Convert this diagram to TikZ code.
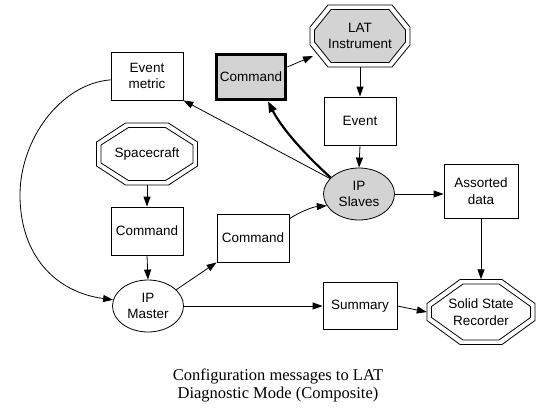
\documentclass[tikz,border=0pt]{standalone}
\usepackage{fontspec}
\setmainfont{Liberation Serif}
\newfontfamily\nodefont{Liberation Sans}
\usetikzlibrary{arrows.meta,shapes.geometric}
\definecolor{gvgray}{RGB}{211,211,211}
\newcommand\octo[6]{(#1-#3,#2-#4+#6) -- (#1-#3+#5,#2-#4) -- (#1+#3-#5,#2-#4) -- (#1+#3,#2-#4+#6) -- (#1+#3,#2+#4-#6) -- (#1+#3-#5,#2+#4) -- (#1-#3+#5,#2+#4) -- (#1-#3,#2+#4-#6) -- cycle}
\begin{document}
\begin{tikzpicture}[x=1pt,y=-1pt,
  lbl/.style={font=\nodefont\fontsize{13.5}{16.5}\selectfont, align=center, inner sep=0pt},
  box/.style={lbl, draw, line width=0.8pt, minimum width=72pt, minimum height=48pt},
  ell/.style={lbl, draw, ellipse, line width=0.8pt, minimum width=71pt, minimum height=52pt},
  oct/.style={lbl},
  octline/.style={line width=0.8pt},
  arr/.style={-{Triangle[length=10pt,width=7pt]}, line width=0.8pt},
  arrbold/.style={-{Triangle[length=11pt,width=8pt]}, line width=2.2pt}]
\useasboundingbox (0,0) rectangle (551,416);
% octagons
\draw[octline] \octo{360}{36}{50}{31}{18}{22};
\filldraw[octline, fill=gvgray] \octo{360}{36}{45.5}{26.5}{16.5}{20.5};
\draw[octline] \octo{147}{154}{50.5}{31}{29}{19};
\draw[octline] \octo{147}{154}{46}{26.5}{27.5}{17.5};
\draw[octline] \octo{481}{312}{54}{32.5}{33}{24};
\draw[octline] \octo{481}{312}{49.5}{28}{31.5}{22.5};
% nodes
\node[oct, minimum width=100pt, minimum height=62pt] (lat) at (360,36) {LAT\\Instrument};
\node[oct, minimum width=101pt, minimum height=62pt] (sc) at (147,154) {Spacecraft};
\node[oct, minimum width=108pt, minimum height=65pt] (ssr) at (481,312) {Solid State\\Recorder};
\node[box] (evm) at (147,76) {Event\\metric};
\node[box, fill=gvgray, line width=3.5pt, minimum width=69pt, minimum height=45pt] (cmdb) at (251,77) {Command};
\node[box] (evt) at (360,121) {Event};
\node[box] (cmdl) at (147,231) {Command};
\node[box] (cmdm) at (253,238) {Command};
\node[ell, fill=gvgray] (ips) at (359,194) {IP\\Slaves};
\node[box, minimum width=74pt, minimum height=54pt] (asd) at (481,191) {Assorted\\data};
\node[box, minimum width=74pt, minimum height=47pt] (sum) at (360,306) {Summary};
\node[ell] (ipm) at (148,306) {IP\\Master};
\node[font=\fontsize{16.5}{18}\selectfont, align=center, inner sep=0pt] (cap) at (278,385) {Configuration messages to LAT\\Diagnostic Mode (Composite)};
\coordinate (latin) at (313,56);
% edges
\draw[arr] (cmdb.east |- 0,67) -- (latin);
\draw[arr] (lat.south) -- (evt.north);
\draw[arr] (evt.south) -- (ips.north);
\draw[arr] (sc.south) -- (cmdl.north);
\draw[arr] (cmdl.south) -- (ipm.north);
\draw[arr] (ips.east) -- (ips.east -| asd.west);
\draw[arr] (asd.south) -- (ssr.north);
\draw[arr] (ipm.east) -- (sum.west);
\draw[arr] (sum.east) -- (ssr.west);
\draw[arr] (ips) -- (evm.south east);
\draw[arrbold] (ips.150) .. controls (300,150) and (280,125) .. (cmdb.-55);
\draw[arr] (cmdm.28) .. controls (300,212) and (312,207) .. (ips.200);
\draw[arr] (ipm.30) -- (cmdm.south west);
\draw[arr] (evm.186) .. controls (60,84) and (20,140) .. (20,195) .. controls (20,255) and (55,292) .. (ipm.170);
\end{tikzpicture}
\end{document}
